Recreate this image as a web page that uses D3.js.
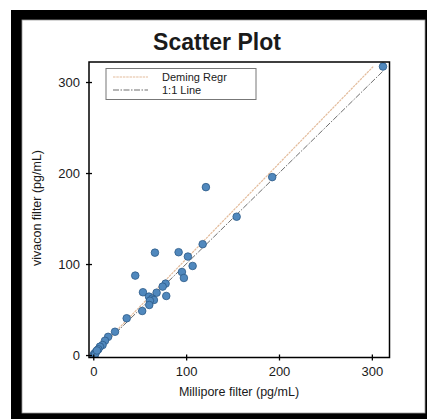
<!DOCTYPE html>
<html>
<head>
<meta charset="utf-8">
<script src="https://cdn.jsdelivr.net/npm/d3@7"></script>
<style>
  body { margin: 0; background: #fff; }
  text { font-family: "Liberation Sans", Arial, sans-serif; fill: #1a1a1a; }
</style>
</head>
<body>
<div id="svganchor"></div>
<script>
// data
let millipore = [312, 192.7, 154.4, 121.3, 117.8, 66.4, 91.9, 101.9, 107, 45.2, 95.5, 97.6,
  77.9, 74.7, 53.5, 68.2, 78.6, 60, 63.5, 65.3, 61, 60.3, 52.7, 36, 23.4, 16, 12.6, 10,
  7.2, 5.4, 3, 1.1, 0.5, 2, 4];
let vivacon = [317, 195.5, 152, 184.5, 121.8, 112.5, 113, 108.2, 97.9, 87.3, 91.3, 84.7,
  78.5, 75.2, 69, 68.5, 64.9, 64.2, 62, 60.5, 59.7, 55, 48.4, 40.4, 25.6, 20, 15.7, 11,
  9.2, 6.3, 3.6, 1.5, 0, 1, 5];
let xTicks = [0, 100, 200, 300];
let yTicks = [0, 100, 200, 300];
let xDomain = [-4.6, 319];
let yDomain = [-2.7, 322];
// deming fit: intercept, slope
let demingFit = [0.5, 1.05];
let legendItems = ["Deming Regr", "1:1 Line"];

let width = 427, height = 419;
let margin = { top: 62, right: 37.5, bottom: 61.5, left: 89 };

let svg = d3.select("#svganchor").append("svg").attr("width", width).attr("height", height);

// picture frame
svg.append("rect").attr("x", 11).attr("y", 10).attr("width", 416).attr("height", 409).attr("fill", "#000");
svg.append("rect").attr("x", 22).attr("y", 20).attr("width", 403).attr("height", 393)
  .attr("fill", "#fff").attr("stroke", "#999").attr("stroke-width", 0.8);

let xScale = d3.scaleLinear().domain(xDomain).range([margin.left, width - margin.right]);
let yScale = d3.scaleLinear().domain(yDomain).range([height - margin.bottom, margin.top]);

svg.append("text").attr("x", 217).attr("y", 49.5).attr("text-anchor", "middle")
  .attr("font-size", 23).attr("font-weight", "bold").text("Scatter Plot");

svg.append("clipPath").attr("id", "plotclip").append("rect")
  .attr("x", margin.left).attr("y", margin.top)
  .attr("width", width - margin.right - margin.left)
  .attr("height", height - margin.bottom - margin.top);

let plot = svg.append("g").attr("clip-path", "url(#plotclip)");

let lineGen = d3.line().x(d => xScale(d[0])).y(d => yScale(d[1]));
let xMax = d3.max(millipore);
let yMax = d3.max(vivacon);
// fit line stops where it reaches the largest vivacon value
let demingEnd = (yMax - demingFit[0]) / demingFit[1];

// deming regression
plot.append("path")
  .attr("d", lineGen([[0, demingFit[0]], [demingEnd, yMax]]))
  .attr("fill", "none").attr("stroke", "#e3bc9c").attr("stroke-width", 1.2)
  .attr("stroke-dasharray", "2.5,0.8");

// 1:1 line
plot.append("path")
  .attr("d", lineGen([[0, 0], [xMax, xMax]]))
  .attr("fill", "none").attr("stroke", "#6e6e6e").attr("stroke-width", 1)
  .attr("stroke-dasharray", "6,1.5,1.5,1.5");

let pts = millipore.map((d, i) => ({ x: d, y: vivacon[i] }));
plot.selectAll(".dot").data(pts).enter().append("circle")
  .attr("class", "dot")
  .attr("cx", d => xScale(d.x))
  .attr("cy", d => yScale(d.y))
  .attr("r", 3.8)
  .attr("fill", "#5088bd")
  .attr("stroke", "#2c5a88")
  .attr("stroke-width", 0.8);

// axes with ticks crossing the frame
let xAxis = svg.append("g").attr("transform", "translate(0," + (height - margin.bottom) + ")")
  .call(d3.axisBottom(xScale).tickValues(xTicks).tickSize(3).tickPadding(6));
xAxis.selectAll(".tick line").attr("y1", -3).attr("y2", 3).attr("stroke", "#000").attr("stroke-width", 1.3);

let yAxis = svg.append("g").attr("transform", "translate(" + margin.left + ",0)")
  .call(d3.axisLeft(yScale).tickValues(yTicks).tickSize(3).tickPadding(6));
yAxis.selectAll(".tick line").attr("x1", 3).attr("x2", -3).attr("stroke", "#000").attr("stroke-width", 1.3);

svg.selectAll(".domain").remove();
svg.selectAll(".tick text").attr("font-size", 13).attr("fill", "#1a1a1a")
  .attr("font-family", "'Liberation Sans', Arial, sans-serif");

// plot box
svg.append("rect").attr("x", margin.left).attr("y", margin.top)
  .attr("width", width - margin.right - margin.left)
  .attr("height", height - margin.bottom - margin.top)
  .attr("fill", "none").attr("stroke", "#000").attr("stroke-width", 1.5);

svg.append("text").attr("x", 239).attr("y", 396).attr("text-anchor", "middle")
  .attr("font-size", 12.5).text("Millipore filter (pg/mL)");
svg.append("text").attr("transform", "translate(41,208) rotate(-90)").attr("text-anchor", "middle")
  .attr("font-size", 12.5).text("vivacon filter (pg/mL)");

// legend
let legend = svg.append("g");
legend.append("rect").attr("x", 106).attr("y", 68.5).attr("width", 150).attr("height", 31)
  .attr("fill", "#fff").attr("stroke", "#777").attr("stroke-width", 1);
let dashes = ["2.5,0.8", "6,1.5,1.5,1.5"];
let colors = ["#e3bc9c", "#6e6e6e"];
legendItems.forEach(function (label, i) {
  let yy = 77 + i * 13;
  legend.append("line").attr("x1", 113).attr("x2", 148).attr("y1", yy).attr("y2", yy)
    .attr("stroke", colors[i]).attr("stroke-width", 1.2).attr("stroke-dasharray", dashes[i]);
  legend.append("text").attr("x", 162).attr("y", yy + 4).attr("font-size", 11).text(label);
});
</script>
</body>
</html>
